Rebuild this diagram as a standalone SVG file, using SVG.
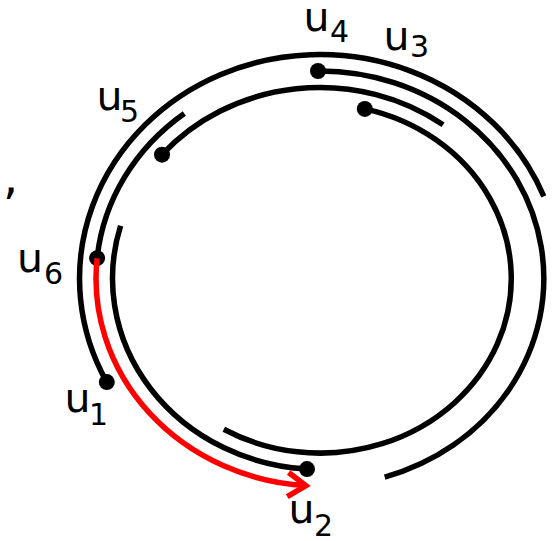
<svg xmlns="http://www.w3.org/2000/svg" width="558" height="541" viewBox="0 0 558 541">
<style>
.arc{fill:none;stroke:#000;stroke-width:5.5;stroke-linecap:butt}
.red{fill:none;stroke:#ff0000;stroke-width:5.5;stroke-linecap:butt}
.dot{fill:#000}
.lbl{font-family:"DejaVu Sans","Verdana",sans-serif;font-size:41px;fill:#000}
.sub{font-size:30px}
</style>
<defs>
<marker id="arrow" viewBox="0 0 30 30" markerWidth="30" markerHeight="30" refX="23" refY="15" orient="auto" markerUnits="userSpaceOnUse">
<path d="M5,3 L23,15 L5,27" fill="none" stroke="#ff0000" stroke-width="5.5" stroke-linejoin="miter"/>
</marker>
</defs>
<rect width="558" height="541" fill="#fff"/>
<g id="connectors">
<path class="arc" d="M106.8,382.1 A240.5,224 0 1 1 543.8,196.4"/>
<path class="arc" d="M318,71 A224,207.5 0 0 1 384.7,477.1"/>
<path class="arc" d="M162,154.7 A207.5,191 0 0 1 443.1,124.8"/>
<path class="arc" d="M364.8,108.9 A191,174.5 0 1 1 223.8,429.2"/>
<path class="arc" d="M97.1,258.2 A224,207.5 0 0 1 184.3,113.4"/>
<path class="arc" d="M120.6,225.7 A207.5,191 0 0 0 307,469.1"/>
</g>
<g id="u1"><circle class="dot" cx="106.8" cy="382.1" r="8"/><text class="lbl" x="64.5" y="412">u<tspan class="sub" x="89" y="425">1</tspan></text></g>
<g id="u2"><circle class="dot" cx="307" cy="469.1" r="8"/><text class="lbl" x="288.5" y="523">u<tspan class="sub" x="314" y="536">2</tspan></text></g>
<g id="u3"><circle class="dot" cx="364.8" cy="108.9" r="8"/><text class="lbl" x="383.5" y="50">u<tspan class="sub" x="410" y="57">3</tspan></text></g>
<g id="u4"><circle class="dot" cx="318" cy="71" r="8"/><text class="lbl" x="303.5" y="31">u<tspan class="sub" x="330" y="42">4</tspan></text></g>
<g id="u5"><circle class="dot" cx="162" cy="154.7" r="8"/><text class="lbl" x="96.5" y="110">u<tspan class="sub" x="120" y="122">5</tspan></text></g>
<g id="u6"><circle class="dot" cx="97.1" cy="258.2" r="8"/><text class="lbl" x="17" y="272">u<tspan class="sub" x="44" y="284">6</tspan></text></g>
<g id="path-highlight">
<path class="red" d="M97.1,258.2 A224,207.5 0 0 0 305.9,485.6" marker-end="url(#arrow)"/>
</g>
<text class="lbl" x="3" y="193" style="font-size:48px">,</text>
</svg>
